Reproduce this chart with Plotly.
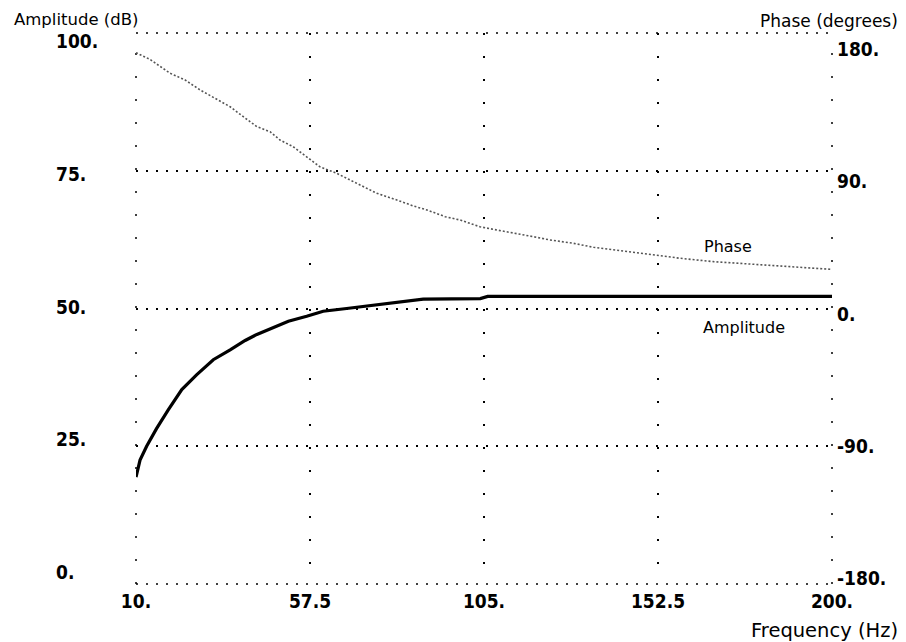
import plotly.graph_objects as go

# ---- data ----
freq_amp = [10, 11.1, 12.9, 15.6, 18.8, 22.5, 26.6, 31.1, 35.7, 39.8, 43.0, 47.5,
            51.6, 56.6, 61.1, 67.5, 73.4, 81.2, 88.4, 104.0, 106.0, 150.0, 200.0]
amp_db = [19.4, 22.5, 25.0, 28.2, 31.6, 35.3, 38.0, 40.7, 42.5, 44.2, 45.3, 46.5,
          47.7, 48.6, 49.5, 50.0, 50.5, 51.2, 51.7, 51.8, 52.2, 52.2, 52.2]

freq_phase = [10, 13.8, 19.3, 23.4, 27.5, 30.7, 35.7, 39.3, 43.0, 46.6, 49.3, 52.9,
              56.6, 60.2, 64.8, 70.2, 75.7, 81.2, 85.7, 89.4, 94.4, 98.5, 103.9,
              108.5, 114.0, 118.5, 123.0, 129.4, 134.9, 142.1, 150.3, 158.6, 167.7,
              177.8, 189.6, 199.7]
phase_deg = [167.1, 162.8, 153.7, 149.3, 142.8, 138.4, 131.8, 125.3, 118.8, 115.5,
             110.1, 105.7, 99.2, 92.6, 88.3, 81.8, 75.3, 70.9, 67.0, 64.4, 60.0,
             57.8, 53.4, 51.3, 49.1, 46.9, 44.8, 42.6, 40.0, 37.8, 35.6, 32.8, 30.6,
             29.1, 27.3, 25.6]

x_ticks = [10, 57.5, 105, 152.5, 200]
x_ticktext = ["10.", "57.5", "105.", "152.5", "200."]
amp_ticks = [0, 25, 50, 75, 100]
amp_ticktext = ["0.", "25.", "50.", "75.", "100."]
phase_ticks = [-180, -90, 0, 90, 180]
phase_ticktext = ["-180.", "-90.", "0.", "90.", "180."]

TICKFONT = dict(family="Liberation Sans Narrow, DejaVu Sans Condensed, Arial Narrow, sans-serif",
                size=19, color="black", weight="bold")
TEXTFONT = dict(family="DejaVu Sans, sans-serif", size=16, color="black")
HDASH = "2px,8px"
VDASH = "2px,21px"

fig = go.Figure()
fig.add_trace(go.Scatter(x=freq_phase, y=phase_deg, yaxis="y2", mode="lines",
                         line=dict(color="#555555", width=1.6, dash="2px,2px"),
                         showlegend=False, name="Phase"))
fig.add_trace(go.Scatter(x=freq_amp, y=amp_db, mode="lines",
                         line=dict(color="black", width=3.2),
                         showlegend=False, name="Amplitude"))

# page body adds an 8px margin, so the figure is drawn smaller
fig.update_layout(
    width=890, height=634,
    margin=dict(l=128, r=66, t=25, b=58),
    paper_bgcolor="white", plot_bgcolor="white",
    xaxis=dict(range=[10, 200], tickvals=x_ticks, ticktext=x_ticktext,
               showgrid=True, gridcolor="black", gridwidth=1.5, griddash=VDASH,
               zeroline=False, showline=False, ticks="", tickfont=TICKFONT,
               ticklabelstandoff=4),
    yaxis=dict(range=[0, 100], tickvals=amp_ticks, showticklabels=False,
               showgrid=True, gridcolor="black", gridwidth=1.5, griddash=HDASH,
               zeroline=False, showline=False, ticks=""),
    yaxis2=dict(range=[-180, 180], tickvals=phase_ticks, showticklabels=False,
                overlaying="y", side="right", showgrid=False, zeroline=False,
                showline=False, ticks=""),
)

# dotted frame (grid lines on the range edges)
for x0, y0, x1, y1, d in [(0, 0, 1, 0, HDASH), (0, 1, 1, 1, HDASH),
                          (0, 0, 0, 1, VDASH), (1, 0, 1, 1, VDASH)]:
    fig.add_shape(type="line", xref="paper", yref="paper", x0=x0, y0=y0, x1=x1, y1=y1,
                  line=dict(color="black", width=1.5, dash=d), layer="below")

annotations = []
# left (amplitude) tick labels, left-aligned as in the plotter output
for v, t in zip(amp_ticks, amp_ticktext):
    annotations.append(dict(x=-0.118, xref="paper", y=v, yref="y", text=t,
                            showarrow=False, xanchor="left", yanchor="middle",
                            yshift=12 - 0.2 * v, font=TICKFONT))
# right (phase) tick labels
for v, t in zip(phase_ticks, phase_ticktext):
    annotations.append(dict(x=1.004, xref="paper", y=v, yref="y2", text=t,
                            showarrow=False, xanchor="left", yanchor="middle",
                            yshift=-5 - 0.061 * v, font=TICKFONT))
annotations += [
    dict(x=-0.178, xref="paper", y=1.025, yref="paper", text="Amplitude (dB)",
         showarrow=False, xanchor="left", yanchor="middle", font=dict(TEXTFONT, size=16.5)),
    dict(x=1.097, xref="paper", y=1.021, yref="paper", text="Phase (degrees)",
         showarrow=False, xanchor="right", yanchor="middle", font=dict(TEXTFONT, size=17)),
    dict(x=1.097, xref="paper", y=-0.085, yref="paper", text="Frequency (Hz)",
         showarrow=False, xanchor="right", yanchor="middle",
         font=dict(TEXTFONT, size=19.5)),
    dict(x=171.6, xref="x", y=61.2, yref="y", text="Phase", showarrow=False,
         xanchor="center", yanchor="middle", font=TEXTFONT),
    dict(x=176.0, xref="x", y=46.6, yref="y", text="Amplitude", showarrow=False,
         xanchor="center", yanchor="middle", font=TEXTFONT),
]
fig.update_layout(annotations=annotations)

fig.write_html("out.html")
